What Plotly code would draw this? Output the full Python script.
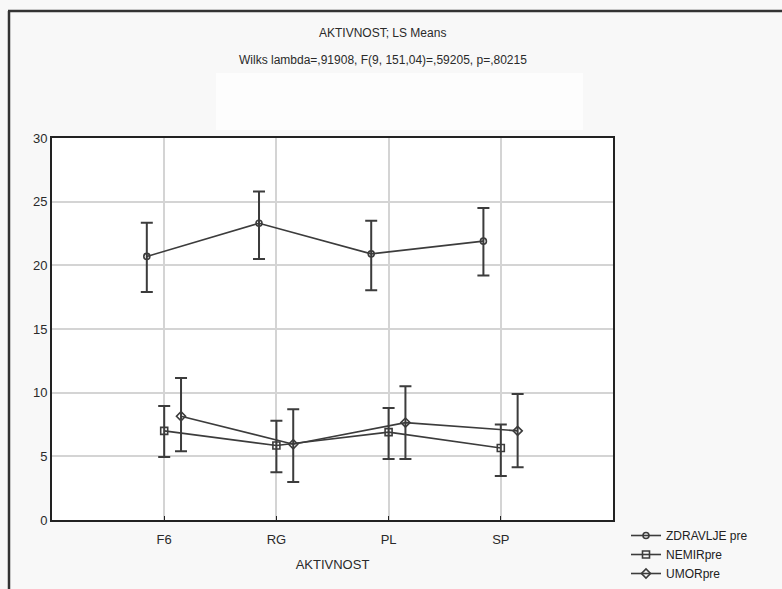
import plotly.graph_objects as go

categories = ["F6", "RG", "PL", "SP"]

zdravlje_mean = [20.7, 23.3, 20.9, 21.9]
zdravlje_upper = [23.35, 25.8, 23.5, 24.5]
zdravlje_lower = [17.9, 20.5, 18.05, 19.2]

nemir_mean = [7.0, 5.85, 6.9, 5.65]
nemir_upper = [8.95, 7.8, 8.8, 7.5]
nemir_lower = [4.95, 3.75, 4.8, 3.45]

umor_mean = [8.15, 5.95, 7.65, 7.0]
umor_upper = [11.15, 8.7, 10.5, 9.9]
umor_lower = [5.4, 2.98, 4.8, 4.15]

series = [
    ("ZDRAVLJE pre", zdravlje_mean, zdravlje_upper, zdravlje_lower, "circle-open", -0.155, 6),
    ("NEMIRpre", nemir_mean, nemir_upper, nemir_lower, "square-open", 0.0, 7),
    ("UMORpre", umor_mean, umor_upper, umor_lower, "diamond-open", 0.15, 7),
]

DARK = "#3c3c3c"
fig = go.Figure()
for name, mean, up, lo, sym, off, msize in series:
    xs = [i + off for i in range(len(categories))]
    fig.add_trace(go.Scatter(
        x=xs, y=mean, name=name, mode="lines+markers",
        line=dict(color=DARK, width=1.6),
        marker=dict(symbol=sym, size=msize, color=DARK, line=dict(width=1.6, color=DARK)),
        error_y=dict(type="data", symmetric=False,
                     array=[u - m for u, m in zip(up, mean)],
                     arrayminus=[m - l for m, l in zip(mean, lo)],
                     color=DARK, thickness=2, width=6),
    ))

L, R, T, B = 52, 169, 138, 69
W, H = 782, 589
pw, ph = W - L - R, H - T - B

def px(x):
    return (x - L) / pw

def py(y):
    return (H - B - y) / ph

fig.update_layout(
    width=W, height=H,
    margin=dict(l=L, r=R, t=T, b=B, autoexpand=False),
    paper_bgcolor="#f8f8f8",
    plot_bgcolor="white",
    font=dict(family="Liberation Sans, Arial, sans-serif", color="#2a2a2a", size=13),
    showlegend=True,
    legend=dict(x=px(626), y=py(521), xanchor="left", yanchor="top",
                bgcolor="rgba(0,0,0,0)", font=dict(size=12, color="#222"),
                tracegroupgap=0, itemwidth=30),
    annotations=[
        dict(text="AKTIVNOST; LS Means", x=px(382), y=py(33), xref="paper", yref="paper",
             xanchor="center", yanchor="middle",
             showarrow=False, font=dict(size=12, color="#2a2a2a")),
        dict(text="Wilks lambda=,91908, F(9, 151,04)=,59205, p=,80215", x=px(383), y=py(60),
             xanchor="center", yanchor="middle",
             xref="paper", yref="paper", showarrow=False, font=dict(size=12, color="#2a2a2a")),
    ],
    shapes=[
        dict(type="line", xref="paper", yref="paper", x0=px(8), x1=px(790), y0=py(11), y1=py(11),
             line=dict(color="#333", width=2.5), layer="below"),
        dict(type="line", xref="paper", yref="paper", x0=px(9), x1=px(9), y0=py(11), y1=py(600),
             line=dict(color="#333", width=2.5), layer="below"),
        dict(type="rect", xref="paper", yref="paper", x0=px(216), x1=px(583), y0=py(130), y1=py(73),
             line=dict(width=0), fillcolor="#fdfdfd", layer="below"),
    ],
)
fig.update_xaxes(
    range=[-1, 4], tickmode="array", tickvals=list(range(len(categories))), ticktext=categories,
    showgrid=True, gridcolor="#d4d4d4", gridwidth=1.5, zeroline=False,
    showline=True, linecolor="#222", linewidth=2, mirror=True,
    ticks="inside", ticklen=4, tickcolor="#222",
    ticklabelstandoff=6,
    title=dict(text="AKTIVNOST", font=dict(size=13), standoff=14),
    tickfont=dict(size=13),
)
fig.update_yaxes(
    range=[0, 30], tickvals=[0, 5, 10, 15, 20, 25, 30],
    showgrid=True, gridcolor="#d4d4d4", gridwidth=1.5, zeroline=False,
    showline=True, linecolor="#222", linewidth=2, mirror=True,
    ticks="", tickfont=dict(size=13),
)
fig.write_html("out.html", config={"displayModeBar": False},
               post_script="document.body.style.margin='0';document.body.style.overflow='hidden';")
